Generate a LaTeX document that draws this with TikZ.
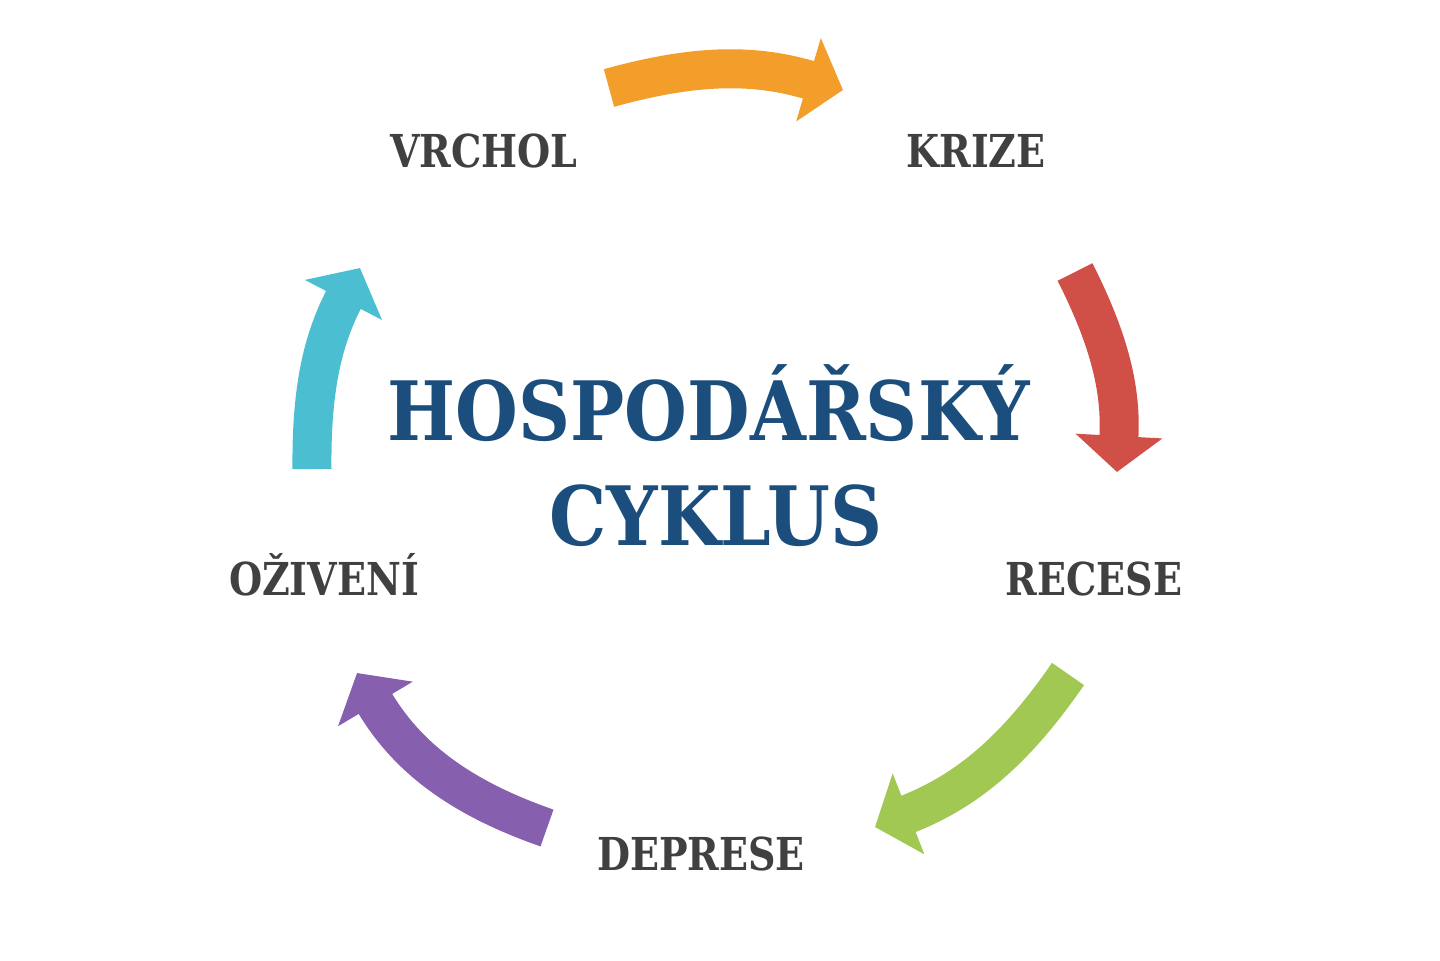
\documentclass[tikz,border=0pt]{standalone}
\usepackage{fontspec}
\setmainfont{DejaVu Serif}
\usetikzlibrary{arrows.meta}
\definecolor{cycOrange}{RGB}{243,157,43}
\definecolor{cycRed}{RGB}{208,80,72}
\definecolor{cycGreen}{RGB}{160,200,82}
\definecolor{cycPurple}{RGB}{135,95,175}
\definecolor{cycCyan}{RGB}{75,190,210}
\definecolor{cycTitle}{RGB}{27,78,124}
\definecolor{cycText}{RGB}{64,64,64}
\tikzset{
    phase/.style={anchor=base,inner sep=0pt,text=cycText,font=\fontsize{12.9}{14}\selectfont\bfseries,xscale=.84},
    title/.style={anchor=base,inner sep=0pt,text=cycTitle,font=\fontsize{23.3}{26}\selectfont\bfseries,xscale=.88},
    cycarrow/.style={line width=.39cm,-{Triangle[width=.85cm,length=.36cm]}}
}
\begin{document}
\begin{tikzpicture}
        \useasboundingbox (0,0) rectangle (14.4,9.6);
        % stages
        \node[phase] (vrchol) at (4.84,7.93) {VRCHOL};
        \node[phase] (krize) at (9.76,7.93) {KRIZE};
        \node[phase] (recese) at (10.94,3.65) {RECESE};
        \node[phase] (deprese) at (7.01,0.90) {DEPRESE};
        \node[phase] (ozivent) at (3.24,3.65) {OŽIVENÍ};
        % title
        \node[title] (hosp) at (7.09,5.20) {HOSPODÁŘSKÝ};
        \node[title] (cyk) at (7.16,4.15) {CYKLUS};
        % arrow ends
        \coordinate (o1) at (6.09,8.72); \coordinate (o2) at (8.43,8.70);
        \coordinate (r1) at (10.75,6.88); \coordinate (r2) at (11.17,4.88);
        \coordinate (g1) at (10.68,2.86); \coordinate (g2) at (8.75,1.33);
        \coordinate (p1) at (5.47,1.32); \coordinate (p2) at (3.57,2.87);
        \coordinate (c1) at (3.12,4.91); \coordinate (c2) at (3.60,6.92);
        \foreach \a/\b/\col/\bnd in {o1/o2/cycOrange/16,r1/r2/cycRed/15,g1/g2/cycGreen/17,p1/p2/cycPurple/20,c1/c2/cycCyan/14}
            {
                \draw[cycarrow,\col] (\a) to[bend left=\bnd] (\b);
            }
    \end{tikzpicture}
\end{document}
